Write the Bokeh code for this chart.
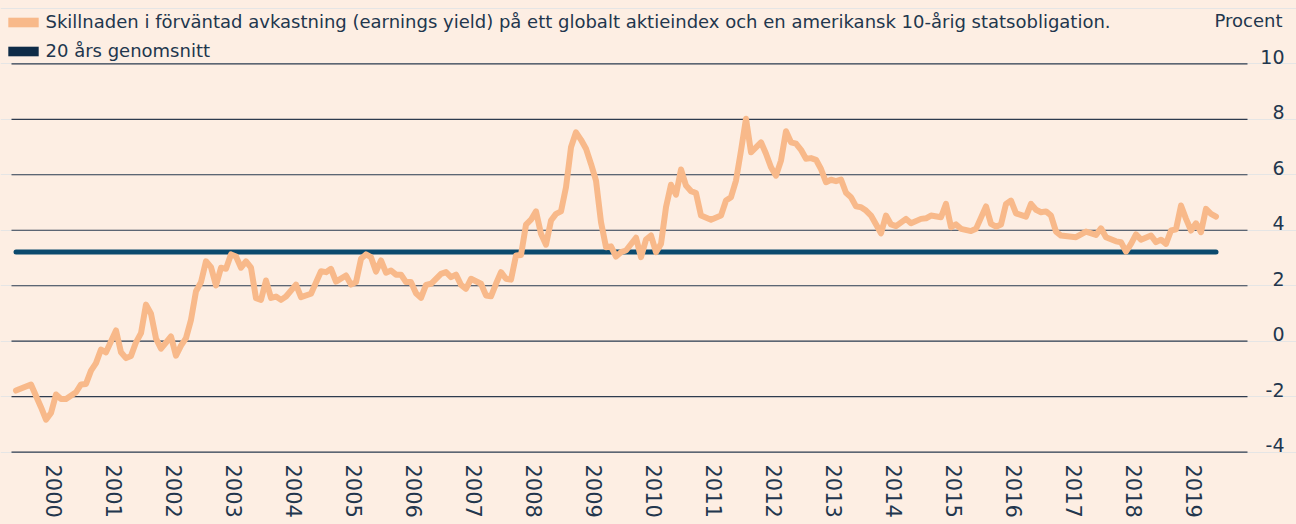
import math
from bokeh.plotting import figure
from bokeh.models import (ColumnDataSource, FixedTicker, CustomJSTickFormatter, Legend,
                          LegendItem, Label, LabelSet, Range1d)
from bokeh.core.properties import value
from bokeh.embed import file_html
from bokeh.resources import INLINE

# ---------------- data ----------------
months = [
    "1999-11", "2000-02", "2000-04", "2000-05", "2000-06", "2000-07", "2000-08", "2000-09",
    "2000-11", "2000-12",
    "2001-01", "2001-02", "2001-03", "2001-04", "2001-05", "2001-07", "2001-08", "2001-09",
    "2001-10", "2001-11", "2001-12",
    "2002-01", "2002-02", "2002-03", "2002-04", "2002-06", "2002-07", "2002-08", "2002-09",
    "2002-10", "2002-11", "2002-12",
    "2003-01", "2003-02", "2003-03", "2003-04", "2003-05", "2003-06", "2003-07", "2003-08",
    "2003-09", "2003-10", "2003-11", "2003-12",
    "2004-01", "2004-02", "2004-03", "2004-04", "2004-05", "2004-07", "2004-08", "2004-10",
    "2004-12",
    "2005-01", "2005-02", "2005-03", "2005-05", "2005-06", "2005-07", "2005-08", "2005-09",
    "2005-10", "2005-11", "2005-12",
    "2006-01", "2006-02", "2006-03", "2006-04", "2006-05", "2006-06", "2006-07", "2006-08",
    "2006-09", "2006-10", "2006-12",
    "2007-01", "2007-02", "2007-03", "2007-04", "2007-05", "2007-06", "2007-08", "2007-09",
    "2007-10", "2007-11", "2007-12",
    "2008-01", "2008-02", "2008-03", "2008-04", "2008-05", "2008-06", "2008-07", "2008-08",
    "2008-09", "2008-10", "2008-11", "2008-12",
    "2009-01", "2009-02", "2009-03", "2009-04", "2009-05", "2009-06", "2009-07", "2009-08",
    "2009-09", "2009-10", "2009-11", "2009-12",
    "2010-01", "2010-03", "2010-04", "2010-05", "2010-06", "2010-07", "2010-08", "2010-09",
    "2010-10", "2010-11", "2010-12",
    "2011-01", "2011-02", "2011-03", "2011-04", "2011-06", "2011-08", "2011-09", "2011-10",
    "2011-11", "2011-12",
    "2012-01", "2012-02", "2012-04", "2012-05", "2012-06", "2012-07", "2012-08", "2012-09",
    "2012-10", "2012-11", "2012-12",
    "2013-01", "2013-02", "2013-03", "2013-04", "2013-05", "2013-06", "2013-07", "2013-08",
    "2013-09", "2013-10", "2013-11", "2013-12",
    "2014-01", "2014-02", "2014-04", "2014-05", "2014-06", "2014-07", "2014-09", "2014-10",
    "2014-12",
    "2015-01", "2015-02", "2015-04", "2015-05", "2015-06", "2015-07", "2015-08", "2015-10",
    "2015-11",
    "2016-01", "2016-02", "2016-03", "2016-04", "2016-05", "2016-06", "2016-07", "2016-09",
    "2016-10", "2016-11", "2016-12",
    "2017-01", "2017-02", "2017-03", "2017-04", "2017-07", "2017-09", "2017-11", "2017-12",
    "2018-01", "2018-03", "2018-04", "2018-05", "2018-06", "2018-07", "2018-08", "2018-10",
    "2018-11", "2018-12",
    "2019-01", "2019-02", "2019-03", "2019-04", "2019-05", "2019-06", "2019-07", "2019-08",
    "2019-09", "2019-10", "2019-11",
]

spread = [
    -1.78, -1.56, -2.38, -2.83, -2.59, -1.92, -2.08, -2.08,
    -1.84, -1.56,
    -1.54, -1.06, -0.79, -0.30, -0.40, 0.39, -0.40, -0.61,
    -0.53, -0.04, 0.29,
    1.32, 0.99, 0.09, -0.27, 0.17, -0.52, -0.16, 0.11,
    0.77, 1.80, 2.13,
    2.88, 2.67, 2.01, 2.65, 2.61, 3.13, 3.05, 2.65,
    2.88, 2.65, 1.55, 1.49,
    2.19, 1.56, 1.61, 1.49, 1.61, 2.04, 1.59, 1.71,
    2.52,
    2.49, 2.61, 2.15, 2.37, 2.04, 2.13, 2.97, 3.13,
    3.03, 2.51, 2.91,
    2.47, 2.55, 2.40, 2.40, 2.13, 2.13, 1.73, 1.56,
    2.03, 2.07, 2.43,
    2.49, 2.31, 2.40, 2.03, 1.89, 2.25, 2.07, 1.65,
    1.62, 2.07, 2.49,
    2.25, 2.22, 3.09, 3.11, 4.20, 4.38, 4.68, 3.87,
    3.48, 4.35, 4.59, 4.68,
    5.55, 6.99, 7.53, 7.26, 6.94, 6.39, 5.79, 4.29,
    3.39, 3.42, 3.05, 3.21,
    3.27, 3.73, 3.03, 3.66, 3.81, 3.21, 3.51, 4.83,
    5.64, 5.28, 6.19,
    5.61, 5.41, 5.34, 4.53, 4.38, 4.53, 5.07, 5.19,
    5.79, 6.87,
    8.02, 6.81, 7.17, 6.76, 6.27, 5.97, 6.51, 7.57,
    7.17, 7.12, 6.90,
    6.58, 6.60, 6.54, 6.21, 5.73, 5.82, 5.77, 5.83,
    5.35, 5.19, 4.86, 4.83,
    4.71, 4.53, 3.89, 4.53, 4.21, 4.15, 4.41, 4.25,
    4.41,
    4.43, 4.53, 4.47, 4.95, 4.11, 4.21, 4.05, 3.97,
    4.05,
    4.86, 4.23, 4.13, 4.21, 4.95, 5.07, 4.61, 4.49,
    4.95, 4.74, 4.65,
    4.68, 4.53, 3.95, 3.81, 3.75, 3.95, 3.83, 4.07,
    3.75, 3.60, 3.57, 3.23, 3.51, 3.85, 3.66, 3.81,
    3.57, 3.66,
    3.51, 3.99, 4.03, 4.89, 4.41, 3.99, 4.25, 3.93,
    4.77, 4.59, 4.49,
]

average_20y = 3.22
years = list(range(2000, 2020))
y_ticks = [-4, -2, 0, 2, 4, 6, 8, 10]
legend_labels = [
    "Skillnaden i förväntad avkastning (earnings yield) på ett globalt aktieindex och en amerikansk 10-årig statsobligation.",
    "20 års genomsnitt",
]
unit_label = "Procent"

# ---------------- style ----------------
BG = "#FDEEE3"
ORANGE = "#F8B98A"
AVG = "#0B4A6E"
AVG_SWATCH = "#0E2B47"
TEXT = "#22364D"
GRID = "#2E3B4E"
FONT = "DejaVu Sans"

# x in decimal years; the frame covers the whole canvas so texts outside the
# gridded area are not clipped
X_LEFT, X_RIGHT = 1999.575, 2021.175
Y_BOTTOM, Y_TOP = -4.048, 12.282
GRID_X0, GRID_X1 = 1999.7583, 2020.3583
NAN = float("nan")

t = [int(m[:4]) + (int(m[5:7]) - 1) / 12 for m in months]

p = figure(
    frame_width=1296, frame_height=453,
    x_range=Range1d(X_LEFT, X_RIGHT),
    y_range=Range1d(Y_BOTTOM, Y_TOP),
    y_axis_location=None,
    output_backend="svg", toolbar_location=None,
    background_fill_color=BG, border_fill_color=BG,
    min_border_left=0, min_border_right=0, min_border_top=0, min_border_bottom=71,
)
p.outline_line_color = None
p.xgrid.grid_line_color = None

# horizontal grid lines (limited to the plotting area of the original)
p.segment(x0=GRID_X0, x1=GRID_X1, y0=y_ticks, y1=y_ticks, line_color=GRID, line_width=1.2)

# x axis
p.xaxis.ticker = FixedTicker(ticks=[y + 5.5 / 12 for y in years])
p.xaxis.formatter = CustomJSTickFormatter(code="return String(Math.floor(tick + 1e-6));")
p.xaxis.major_label_orientation = -math.pi / 2
p.xaxis.axis_line_color = None
p.xaxis.major_tick_line_color = None
p.xaxis.minor_tick_line_color = None
p.xaxis.major_label_standoff = 5
p.xaxis.major_label_text_font = FONT
p.xaxis.major_label_text_font_size = "21px"
p.xaxis.major_label_text_color = TEXT

# series
src = ColumnDataSource(dict(t=t, v=spread))
avg_src = ColumnDataSource(dict(t=[t[0], t[-1]], v=[average_20y, average_20y]))
p.line("t", "v", source=avg_src, line_color=AVG, line_width=5, line_cap="round")
p.line("t", "v", source=src, line_color=ORANGE, line_width=6, line_join="round", line_cap="round")

# legend swatches (legend-only renderers, nothing drawn in the plot)
sw1 = p.quad(left=[NAN], right=[NAN], top=[NAN], bottom=[NAN], fill_color=ORANGE, line_color=None)
sw2 = p.quad(left=[NAN], right=[NAN], top=[NAN], bottom=[NAN], fill_color=AVG_SWATCH, line_color=None)
legend = Legend(
    items=[LegendItem(label=legend_labels[0], renderers=[sw1]),
           LegendItem(label=legend_labels[1], renderers=[sw2])],
    location=(3.5, 392), orientation="vertical",
    glyph_width=38, glyph_height=12, label_standoff=4, label_height=12,
    spacing=8, padding=0, margin=0,
    background_fill_alpha=0, border_line_alpha=0,
    label_text_font=FONT, label_text_font_size="18px", label_text_color=TEXT,
)
p.add_layout(legend)

# y tick labels (right-aligned, baseline on the grid line)
tick_src = ColumnDataSource(dict(y=y_ticks, text=[str(v) for v in y_ticks]))
p.add_layout(LabelSet(
    source=tick_src, x=1284, x_units="screen", y="y", text="text",
    text_align="right", text_baseline="alphabetic",
    text_font=value(FONT), text_font_size="19px", text_color=TEXT,
))

p.add_layout(Label(
    x=1282, x_units="screen", y=11.56, text=unit_label,
    text_align="right", text_baseline="middle",
    text_font=FONT, text_font_size="18px", text_color=TEXT,
))

html = file_html(p, INLINE)
html = html.replace("</head>", "<style>html,body{background:%s;overflow:hidden;}</style></head>" % BG, 1)
open("out.html", "w").write(html)
